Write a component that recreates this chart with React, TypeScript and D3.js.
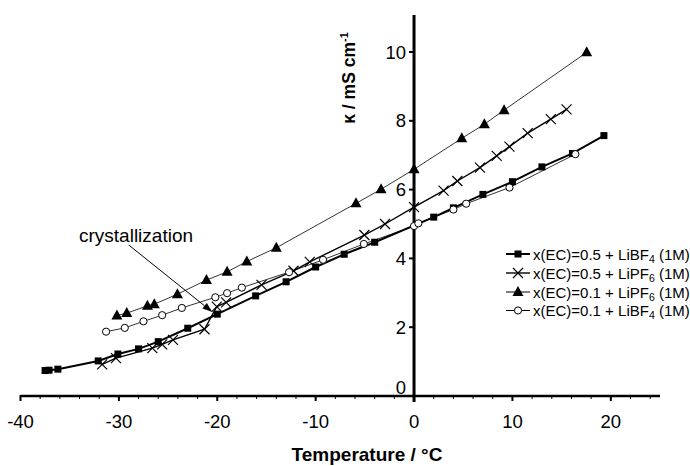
import React from "react";
import * as d3 from "d3";

const sqT = [-37.5, -37.1, -36.2, -32.1, -30.1, -28.0, -26.0, -23.0, -20.0, -16.1, -13.0, -10.0, -7.1, -4.0, 2.0, 4.0, 7.0, 10.0, 13.0, 16.1, 19.3];
const sqK = [0.74, 0.75, 0.78, 1.02, 1.22, 1.37, 1.58, 1.97, 2.38, 2.91, 3.32, 3.75, 4.12, 4.47, 5.2, 5.47, 5.86, 6.23, 6.66, 7.05, 7.57];

const xT = [-31.7, -30.3, -26.6, -25.6, -24.5, -21.3, -20.05, -19.1, -15.5, -12.25, -10.6, -5.05, -2.95, 0, 3.0, 4.4, 6.7, 8.4, 9.7, 11.55, 13.9, 15.5];
const xK = [0.92, 1.10, 1.39, 1.50, 1.63, 1.94, 2.60, 2.72, 3.23, 3.64, 3.90, 4.68, 5.0, 5.49, 5.97, 6.25, 6.64, 6.98, 7.25, 7.64, 8.05, 8.33];

const triT = [-30.2, -29.2, -27.1, -26.4, -24.05, -21.1, -19.0, -17.0, -14.0, -5.9, -3.35, 0, 4.85, 7.15, 9.15, 17.55];
const triK = [2.34, 2.41, 2.62, 2.67, 2.96, 3.37, 3.61, 3.91, 4.31, 5.60, 6.01, 6.59, 7.49, 7.90, 8.31, 9.99];

const circT = [-31.3, -29.4, -27.5, -25.6, -23.6, -20.2, -19.0, -17.5, -12.7, -9.25, -5.1, 0, 0.44, 4.0, 5.3, 9.7, 16.4];
const circK = [1.87, 1.98, 2.17, 2.35, 2.56, 2.87, 2.99, 3.15, 3.60, 3.96, 4.42, 4.94, 5.02, 5.42, 5.59, 6.06, 7.03];

const xTicks = [-40, -30, -20, -10, 0, 10, 20];
const yTicks = [0, 2, 4, 6, 8, 10];

const legendMain = ["x(EC)=0.5 + LiBF", "x(EC)=0.5 + LiPF", "x(EC)=0.1 + LiPF", "x(EC)=0.1 + LiBF"];
const legendSub = ["4", "6", "6", "4"];

const annotFrom = [-29.0, 4.39];
const annotTo = [-20.5, 2.44];

const FONT = "Arial, 'Liberation Sans', sans-serif";

type Kind = "square" | "x" | "tri" | "circle";

function Marker({ kind, cx, cy }: { kind: Kind; cx: number; cy: number }) {
  if (kind === "square") return <rect x={cx - 3.5} y={cy - 3.5} width={7} height={7} fill="#000" />;
  if (kind === "x")
    return (
      <path d={`M${cx - 5},${cy - 5}L${cx + 5},${cy + 5}M${cx - 5},${cy + 5}L${cx + 5},${cy - 5}`} stroke="#000" strokeWidth={1.2} fill="none" />
    );
  if (kind === "tri") return <path d={`M${cx},${cy - 6}L${cx + 5.5},${cy + 4}L${cx - 5.5},${cy + 4}Z`} fill="#000" />;
  return <circle cx={cx} cy={cy} r={3.6} fill="#fff" stroke="#000" strokeWidth={1} />;
}

export default function App() {
  const x = d3.scaleLinear().domain([-40, 25]).range([20.5, 660]);
  const y = d3.scaleLinear().domain([0, 10]).range([396, 52]);
  const x0 = x(0);
  const y0 = y(0);

  const series: { T: number[]; K: number[]; kind: Kind; sw: number }[] = [
    { T: sqT, K: sqK, kind: "square", sw: 2 },
    { T: xT, K: xK, kind: "x", sw: 1.4 },
    { T: triT, K: triK, kind: "tri", sw: 0.8 },
    { T: circT, K: circK, kind: "circle", sw: 0.8 },
  ];

  const line = d3
    .line<[number, number]>()
    .x((d) => x(d[0]))
    .y((d) => y(d[1]));

  const minor = d3.range(-40, 25.01, 2);

  const ax1 = x(annotFrom[0]);
  const ay1 = y(annotFrom[1]);
  const ax2 = x(annotTo[0]);
  const ay2 = y(annotTo[1]);
  const ang = Math.atan2(ay2 - ay1, ax2 - ax1);
  const hl = 10;
  const hw = 3.5;
  const bx = ax2 - hl * Math.cos(ang);
  const by = ay2 - hl * Math.sin(ang);
  const head = `M${ax2},${ay2}L${bx - hw * Math.sin(ang)},${by + hw * Math.cos(ang)}L${bx + hw * Math.sin(ang)},${by - hw * Math.cos(ang)}Z`;

  const legX = 506;
  const legY = [254, 273, 292, 310.5];

  return (
    <svg width={690} height={466} style={{ position: "absolute", left: 0, top: 0, background: "#fff" }} fontFamily={FONT}>
      <rect width={690} height={466} fill="#fff" />
      {/* x axis */}
      <line x1={x(-40)} x2={x(25)} y1={y0} y2={y0} stroke="#000" strokeWidth={2.5} />
      {minor.map((t) => (
        <line key={"m" + t} x1={x(t)} x2={x(t)} y1={y0} y2={y0 + 3} stroke="#000" strokeWidth={1} />
      ))}
      {xTicks.map((t) => (
        <g key={"xt" + t}>
          <line x1={x(t)} x2={x(t)} y1={y0 - 1} y2={y0 + 5} stroke="#000" strokeWidth={2} />
          <text x={x(t)} y={428} textAnchor="middle" fontSize={18.5} fill="#000">
            {t}
          </text>
        </g>
      ))}
      {/* y axis */}
      <line x1={x0} x2={x0} y1={15} y2={y0 + 6} stroke="#000" strokeWidth={3} />
      {yTicks.map((v) => (
        <g key={"yt" + v}>
          <line x1={x0 - 5} x2={x0} y1={y(v)} y2={y(v)} stroke="#000" strokeWidth={2} />
          <text x={406} y={y(v) + (v === 0 ? -2 : 6.5)} textAnchor="end" fontSize={18.5} fill="#000">
            {v}
          </text>
        </g>
      ))}
      {/* axis titles */}
      <text x={367} y={461} textAnchor="middle" fontSize={19} fontWeight="bold" fill="#000">
        Temperature / °C
      </text>
      <text transform={`translate(355,78) rotate(-90)`} textAnchor="middle" fontSize={17.5} fontWeight="bold" fill="#000">
        κ / mS cm
        <tspan dy={-7} fontSize={11}>-1</tspan>
      </text>
      {/* series */}
      {series.map((s, i) => {
        const pts = s.T.map((t, j) => [t, s.K[j]] as [number, number]);
        return (
          <g key={"s" + i}>
            <path d={line(pts) || ""} fill="none" stroke="#000" strokeWidth={s.sw} />
            {pts.map((p, j) => (
              <Marker key={j} kind={s.kind} cx={x(p[0])} cy={y(p[1])} />
            ))}
          </g>
        );
      })}
      {/* annotation */}
      <line x1={ax1} y1={ay1} x2={bx} y2={by} stroke="#000" strokeWidth={1} />
      <path d={head} fill="#000" />
      <text x={79} y={242} fontSize={19} fill="#000">
        crystallization
      </text>
      {/* legend */}
      {series.map((s, i) => (
        <g key={"l" + i}>
          <line x1={legX} x2={legX + 24} y1={legY[i]} y2={legY[i]} stroke="#000" strokeWidth={s.sw < 1 ? 1 : s.sw} />
          <Marker kind={s.kind} cx={legX + 12} cy={legY[i]} />
          <text x={533} y={legY[i] + 5.5} fontSize={15} fill="#000">
            {legendMain[i]}
            <tspan dy={3} fontSize={10.5}>{legendSub[i]}</tspan>
            <tspan dy={-3}> (1M)</tspan>
          </text>
        </g>
      ))}
    </svg>
  );
}
